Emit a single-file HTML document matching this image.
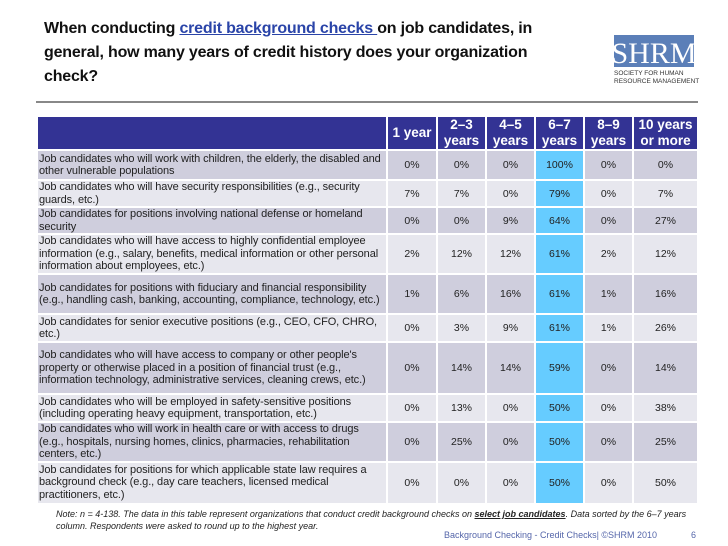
<!DOCTYPE html>
<html><head><meta charset="utf-8"><style>
body{margin:0;width:728px;height:546px;background:#fff;position:relative;overflow:hidden;font-family:"Liberation Sans",Arial,sans-serif}
.title{position:absolute;left:44px;top:17px;width:520px;font-size:16px;font-weight:bold;line-height:24px;color:#111;font-family:"Liberation Sans",sans-serif;letter-spacing:-0.2px}
.title a{color:#2a44a8;text-decoration:underline}
.rule{position:absolute;left:36px;top:101px;width:662px;height:2px;background:#888}
.logo{position:absolute;left:614px;top:35px;width:86px;height:50px}
table{position:absolute;left:36px;top:115px;border-collapse:collapse;table-layout:fixed}
td,th{border:2px solid #fff;padding:0}
th{background:#333394;color:#fff;font-size:13.5px;font-weight:bold;line-height:16px;height:29px;text-align:center}
td{font-size:10.5px;color:#222;text-align:center}
td.l{text-align:left;font-size:11px;line-height:12.5px;padding-left:1px;letter-spacing:-0.1px}
tr.d td{background:#cfcedd}
tr.w td{background:#e7e7ee}
tr td.c{background:#66ccff}
.note{position:absolute;left:56px;top:508px;font-size:9px;font-style:italic;color:#222;line-height:12px;width:640px}
.foot{position:absolute;left:444px;top:530px;font-size:9px;color:#5566aa}
.pg{position:absolute;left:691px;top:530px;font-size:9px;color:#5566aa}
</style></head><body>
<div class="title">When conducting <a>credit background checks </a>on job candidates, in general, how many years of credit history does your organization check?</div>
<svg class="logo" viewBox="0 0 86 50"><rect x="0" y="0" width="80" height="32" fill="#5b7fb8"/><text x="40" y="28" font-family="Liberation Serif,serif" font-size="30" fill="#fff" text-anchor="middle">SHRM</text><text x="0" y="40" font-size="6.5" fill="#333" font-family="Liberation Sans,sans-serif">SOCIETY FOR HUMAN</text><text x="0" y="48" font-size="6.5" fill="#333" font-family="Liberation Sans,sans-serif">RESOURCE MANAGEMENT</text></svg>
<div class="rule"></div>
<table>
<colgroup><col style="width:350px"><col style="width:50px"><col style="width:49px"><col style="width:49px"><col style="width:49px"><col style="width:49px"><col style="width:65px"></colgroup>
<tbody id="tb"></tbody></table>
<div class="note">Note: n = 4-138. The data in this table represent organizations that conduct credit background checks on <b><u>select job candidates</u></b>. Data sorted by the 6–7 years column. Respondents were asked to round up to the highest year.</div>
<div class="foot">Background Checking - Credit Checks| ©SHRM 2010</div>
<div class="pg">6</div>
<script>
const headers=["","1 year","2–3<br>years","4–5<br>years","6–7<br>years","8–9<br>years","10 years<br>or more"];
const labels=["Job candidates who will work with children, the elderly, the disabled and other vulnerable populations","Job candidates who will have security responsibilities (e.g., security guards, etc.)","Job candidates for positions involving national defense or homeland security","Job candidates who will have access to highly confidential employee information (e.g., salary, benefits, medical information or other personal information about employees, etc.)","Job candidates for positions with fiduciary and financial responsibility (e.g., handling cash, banking, accounting, compliance, technology, etc.)","Job candidates for senior executive positions (e.g., CEO, CFO, CHRO, etc.)","Job candidates who will have access to company or other people's property or otherwise placed in a position of financial trust (e.g., information technology, administrative services, cleaning crews, etc.)","Job candidates who will be employed in safety-sensitive positions (including operating heavy equipment, transportation, etc.)","Job candidates who will work in health care or with access to drugs (e.g., hospitals, nursing homes, clinics, pharmacies, rehabilitation centers, etc.)","Job candidates for positions for which applicable state law requires a background check (e.g., day care teachers, licensed medical practitioners, etc.)"];
const y1=[0,7,0,2,1,0,0,0,0,0];
const y23=[0,7,0,12,6,3,14,13,25,0];
const y45=[0,0,9,12,16,9,14,0,0,0];
const y67=[100,79,64,61,61,61,59,50,50,50];
const y89=[0,0,0,2,1,1,0,0,0,0];
const y10=[0,7,27,12,16,26,14,38,25,50];
const heights=[30,27,27,40,40,28,52,28,39,42];
const tb=document.getElementById('tb');
const hr=document.createElement('tr');


headers.forEach((h,i)=>{const th=document.createElement('th');th.innerHTML=h;


hr.appendChild(th);});
tb.appendChild(hr);
const cols=[y1,y23,y45,y67,y89,y10];
labels.forEach((lab,r)=>{const tr=document.createElement('tr');tr.className=r%2?'w':'d';


const td=document.createElement('td');td.className='l';td.textContent=lab;td.style.height=(heights[r]-2)+'px';


tr.appendChild(td);
cols.forEach((c,i)=>{const d=document.createElement('td');d.textContent=c[r]+'%';if(i===3)d.className='c';


tr.appendChild(d);});
tb.appendChild(tr);});
</script>
</body></html>
